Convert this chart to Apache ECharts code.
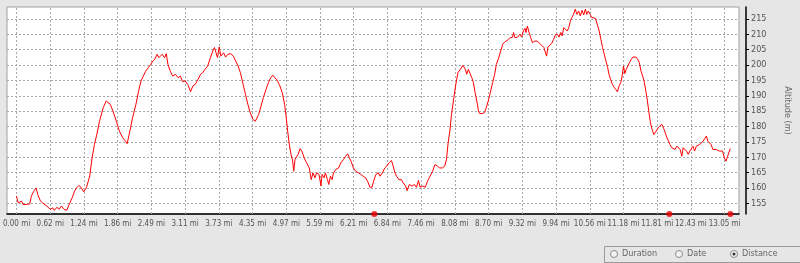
<!DOCTYPE html>
<html>
<head>
<meta charset="utf-8">
<script src="https://cdn.jsdelivr.net/npm/echarts@6/dist/echarts.min.js"></script>
<style>
html,body{margin:0;padding:0;background:#e6e6e6;}
#chart{width:800px;height:263px;}
</style>
</head>
<body>
<div id="chart"></div>
<script>
// Distance along track (km) and altitude (m)
const distanceKm = [
0,0.05,0.10,0.15,0.19,0.24,0.29,0.34,0.39,0.44,0.51,0.58,0.63,0.71,0.81,0.90,1.00,1.07,1.12,1.20,
1.26,1.33,1.41,1.49,1.56,1.65,1.72,1.78,1.85,1.91,1.99,2.07,2.17,2.24,2.31,2.38,2.46,2.57,2.66,2.71,
2.78,2.86,2.96,3.05,3.15,3.23,3.28,3.34,3.44,3.54,3.62,3.69,3.76,3.83,3.91,3.98,4.04,4.10,4.17,4.22,
4.27,4.32,4.39,4.44,4.49,4.56,4.63,4.71,4.79,4.86,4.92,5.00,5.08,5.16,5.23,5.30,5.38,5.46,5.52,5.59,
5.67,5.75,5.82,5.87,5.91,5.96,6.01,6.06,6.14,6.20,6.27,6.35,6.43,6.50,6.57,6.64,6.72,6.79,6.86,6.93,
7.01,7.08,7.13,7.18,7.25,7.32,7.40,7.47,7.54,7.60,7.66,7.73,7.81,7.88,7.95,8.00,8.04,8.09,8.14,8.19,
8.22,8.26,8.30,8.35,8.41,8.46,8.53,8.60,8.68,8.74,8.79,8.85,8.90,8.97,9.03,9.06,9.12,9.16,9.22,9.26,
9.31,9.36,9.40,9.47,9.55,9.62,9.70,9.76,9.82,9.87,9.92,9.99,10.06,10.14,10.21,10.28,10.35,10.41,10.48,10.54,
10.59,10.66,10.73,10.78,10.85,10.92,10.98,11.05,11.12,11.17,11.22,11.27,11.34,11.41,11.47,11.54,11.58,11.65,11.73,11.80,
11.86,11.92,11.97,12.05,12.12,12.19,12.24,12.29,12.34,12.41,12.48,12.55,12.63,12.70,12.75,12.80,12.85,12.90,12.97,13.02,
13.09,13.16,13.24,13.31,13.35,13.40,13.45,13.50,13.55,13.60,13.65,13.70,13.74,13.81,13.88,13.93,13.99,14.05,14.12,14.18,
14.23,14.30,14.36,14.42,14.49,14.56,14.64,14.71,14.74,14.78,14.86,14.93,14.98,15.03,15.08,15.11,15.15,15.20,15.25,15.30,
15.37,15.44,15.49,15.54,15.59,15.64,15.69,15.72,15.76,15.80,15.87,15.93,15.98,16.04,16.09,16.14,16.18,16.23,16.28,16.33,
16.38,16.43,16.47,16.52,16.57,16.62,16.67,16.72,16.77,16.82,16.87,16.91,16.96,17.01,17.06,17.11,17.17,17.22,17.28,17.33,
17.38,17.43,17.48,17.53,17.57,17.62,17.67,17.72,17.77,17.82,17.87,17.92,17.96,18.00,18.04,18.08,18.13,18.18,18.23,18.28,
18.33,18.37,18.42,18.47,18.52,18.57,18.62,18.67,18.71,18.75,18.80,18.85,18.90,18.95,19.00,19.04,19.09,19.14,19.19,19.24,
19.29,19.34,19.38,19.43,19.48,19.53,19.58,19.63,19.68,19.73,19.77,19.82,19.87,19.92,19.97,20.02,20.06,20.11,20.16,20.21,
20.26,20.31,20.36,20.41,20.46,20.50,20.55,20.60,20.65,20.70,20.75,20.79,20.84,20.89,20.94,20.99,21.04,21.09,21.14,21.17
];
const altitudeM = [
157.3,155.1,154.6,155.7,154.6,155.1,154.6,155.1,154.8,157.3,158.9,160.0,157.8,155.7,154.8,154.1,153.0,153.5,152.7,153.7,
153.0,154.1,153.0,152.7,154.6,156.8,158.9,160.0,160.8,160.2,158.7,160.0,163.8,169.8,174.1,177.4,181.7,186.1,188.3,188.8,
187.2,185.0,181.7,178.5,176.3,175.2,174.4,177.4,182.8,187.2,191.5,194.8,196.4,198.0,199.2,200.2,201.3,201.9,203.5,202.4,
201.9,203.5,202.4,203.7,200.2,198.0,196.4,197.0,195.9,196.4,194.6,194.8,193.7,191.3,193.2,193.7,195.3,197.0,197.5,198.6,
199.7,202.4,204.6,205.7,205.1,202.4,205.9,202.9,204.0,202.6,203.5,203.7,202.9,201.3,199.7,197.5,193.7,190.4,187.2,184.5,
182.3,181.7,181.2,183.9,186.6,189.4,192.1,194.3,195.9,196.7,195.9,195.0,193.2,191.0,187.2,182.8,178.5,174.1,170.9,168.7,
165.4,169.3,168.7,170.9,172.8,172.0,169.8,168.2,166.5,162.7,164.9,163.3,164.9,164.4,160.6,164.4,163.3,164.9,162.7,161.1,
163.8,162.7,164.9,166.0,166.5,168.2,169.3,170.3,171.1,169.8,168.7,166.5,165.4,164.9,164.4,163.8,163.3,162.2,160.2,160.2,
162.2,164.4,164.9,163.8,164.9,166.5,167.1,168.2,168.9,167.1,164.9,163.8,162.7,162.7,161.6,160.6,159.1,161.1,160.6,161.1,
160.2,162.4,160.2,160.6,160.2,162.2,163.3,162.7,165.4,167.6,167.1,166.5,166.5,167.1,169.3,174.7,178.5,183.9,189.4,193.2,
197.5,198.6,199.9,198.6,197.0,198.6,198.0,195.9,194.3,191.0,188.3,185.0,184.2,184.2,184.5,186.1,188.3,191.0,194.3,197.0,
200.2,202.4,204.6,206.8,207.6,208.1,208.9,209.1,210.6,208.9,209.1,210.0,209.1,211.1,212.0,210.6,212.7,210.6,208.9,207.3,
207.8,207.8,208.1,206.8,206.2,205.7,206.2,202.9,205.9,205.7,207.0,208.4,209.8,210.0,209.1,210.6,209.5,212.2,211.6,211.1,
212.2,214.6,215.5,216.5,218.2,216.5,217.6,216.0,217.8,216.3,218.2,216.5,217.6,216.5,215.5,214.9,215.2,213.3,211.1,208.4,
205.7,203.5,201.3,199.2,197.0,195.3,193.7,192.8,192.1,191.3,193.2,194.3,196.4,199.7,197.2,198.6,199.2,200.8,201.9,202.6,
202.9,202.6,201.9,200.8,198.0,196.4,194.3,191.0,188.3,185.0,181.2,179.0,177.4,177.9,179.0,179.8,179.6,180.7,179.4,177.9,
176.3,175.2,174.1,173.1,173.6,172.5,173.6,174.1,172.5,170.3,173.1,173.6,172.0,170.9,172.0,171.4,173.6,172.0,173.6,173.1,
174.1,173.6,175.2,175.8,176.9,175.2,175.8,174.1,172.5,172.0,172.5,172.0,172.0,171.4,172.0,169.8,168.7,170.3,172.0,172.8
];
// Waypoint markers on the distance axis (km)
const markerKm = [10.61, 19.36, 21.17];
// Axis ticks
const xTickKm = [0,1,2,3,4,5,6,7,8,9,10,11,12,13,14,15,16,17,18,19,20,21];
const xTickLabels = ["0.00 mi","0.62 mi","1.24 mi","1.86 mi","2.49 mi","3.11 mi","3.73 mi","4.35 mi","4.97 mi","5.59 mi","6.21 mi","6.84 mi","7.46 mi","8.08 mi","8.70 mi","9.32 mi","9.94 mi","10.56 mi","11.18 mi","11.81 mi","12.43 mi","13.05 mi"];
const yTickValues = [155,160,165,170,175,180,185,190,195,200,205,210,215];
const yAxisName = "Altitude (m)";
const radioLabels = ["Duration","Date","Distance"];
const radioSelected = 2;

const X_MIN = -0.283, X_MAX = 21.426;
const Y_MIN = 151.5, Y_MAX = 218.9;
const FONT = '"Liberation Sans Narrow","DejaVu Sans Condensed","Liberation Sans",sans-serif';
const GRID_STYLE = {color: '#a8a8a8', type: [2, 2], width: 1};

const lineData = distanceKm.map((d, i) => [d, altitudeM[i]]);
const markerData = markerKm.map(d => [d, Y_MIN]);
const gridLines = xTickKm.map(v => ({xAxis: v})).concat(yTickValues.map(v => ({yAxis: v})));

const chart = echarts.init(document.getElementById('chart'), null, {renderer: 'canvas'});

const radioX = [614, 679, 734];
const graphics = [{
  type: 'rect', left: 604, top: 246,
  shape: {width: 200, height: 16},
  style: {fill: '#e6e6e6', stroke: '#9a9a9a', lineWidth: 1}
}];
radioLabels.forEach((t, i) => {
  graphics.push({
    type: 'circle', x: radioX[i], y: 254,
    shape: {r: 3.5},
    style: {fill: '#f4f4f4', stroke: '#8a8a8a', lineWidth: 1}
  });
  if (i === radioSelected) {
    graphics.push({type: 'circle', x: radioX[i], y: 254, shape: {r: 1.5}, style: {fill: '#333'}});
  }
  graphics.push({
    type: 'text', x: radioX[i] + 8, y: 254,
    style: {text: t, fill: '#666', font: '9px ' + FONT, verticalAlign: 'middle'}
  });
});

chart.setOption({
  animation: false,
  backgroundColor: '#e6e6e6',
  grid: {
    left: 7, top: 7, width: 744, height: 207,
    show: true, backgroundColor: '#ffffff', borderColor: '#a0a0a0', borderWidth: 1,
    containLabel: false
  },
  xAxis: {
    type: 'value', min: X_MIN, max: X_MAX,
    axisLine: {show: true, onZero: false, lineStyle: {color: '#000', width: 1.5}},
    axisTick: {show: false, customValues: xTickKm},
    axisLabel: {
      customValues: xTickKm, margin: 6, color: '#555', fontSize: 8, fontFamily: FONT,
      hideOverlap: false,
      formatter: v => xTickLabels[Math.round(v)]
    },
    splitLine: {show: false}
  },
  yAxis: {
    type: 'value', position: 'right', offset: 7, min: Y_MIN, max: Y_MAX,
    name: yAxisName, nameLocation: 'middle', nameRotate: -90, nameGap: 37,
    nameTextStyle: {color: '#666', fontSize: 9, fontFamily: FONT},
    axisLine: {show: true, onZero: false, lineStyle: {color: '#000', width: 1.5}},
    axisTick: {show: true, inside: false, length: 3, customValues: yTickValues, lineStyle: {color: '#000'}},
    axisLabel: {customValues: yTickValues, margin: 5, color: '#555', fontSize: 9, fontFamily: FONT},
    splitLine: {show: false}
  },
  series: [{
    // helper series that carries the dashed grid lines
    type: 'line', data: [[X_MIN, Y_MIN]], symbol: 'none', silent: true,
    lineStyle: {opacity: 0}, z: 1,
    markLine: {
      silent: true, animation: false, z: 1,
      symbol: ['none', 'none'], label: {show: false},
      lineStyle: GRID_STYLE, emphasis: {disabled: true},
      data: gridLines
    }
  }, {
    type: 'line', data: lineData, showSymbol: false, symbol: 'none',
    lineStyle: {color: '#ff0000', width: 1}, z: 3
  }, {
    type: 'scatter', data: markerData, symbolSize: 6, clip: false,
    itemStyle: {color: '#ee0000'}, z: 5
  }],
  graphic: graphics
});
</script>
</body>
</html>
